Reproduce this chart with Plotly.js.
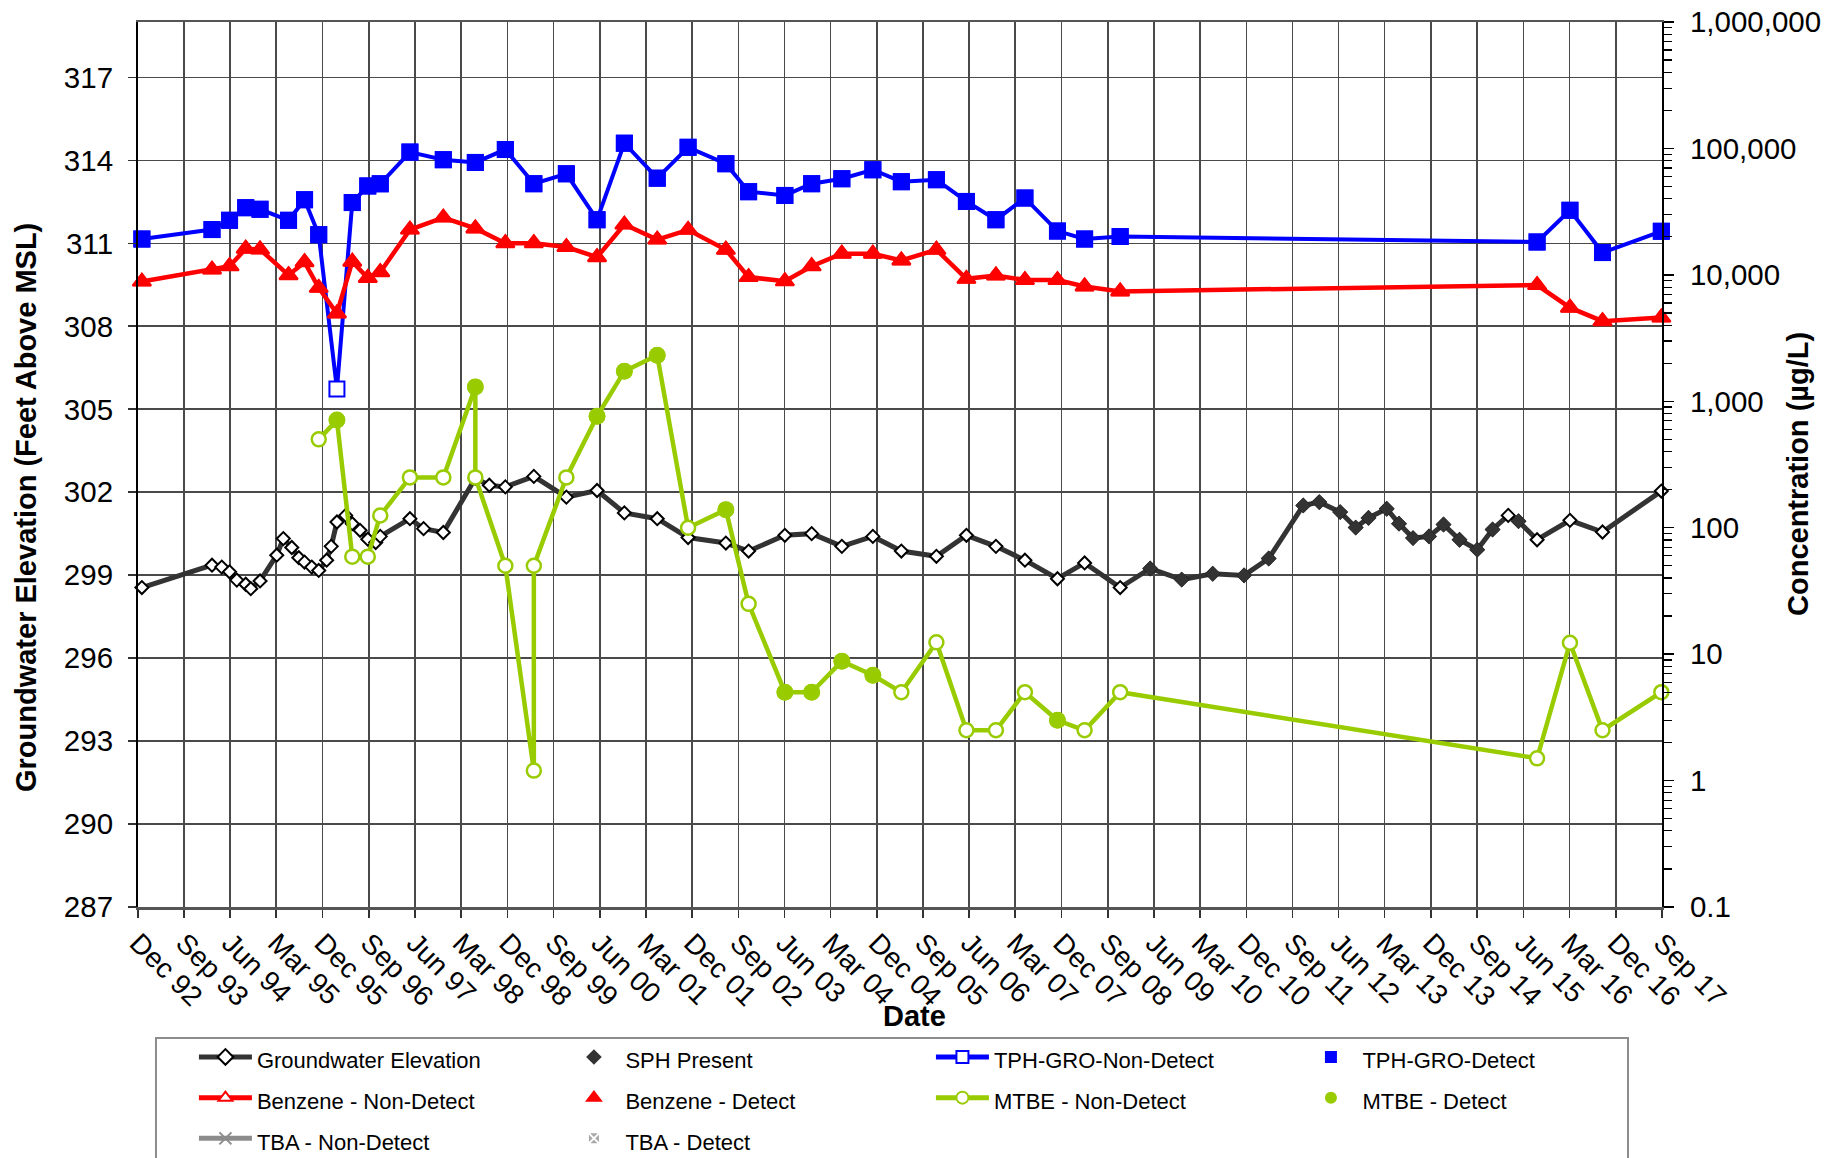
<!DOCTYPE html>
<html>
<head>
<meta charset="utf-8">
<script src="https://cdn.plot.ly/plotly-3.0.1.min.js"></script>
<style>
  html, body { margin: 0; padding: 0; background: #ffffff; }
  #chart { width: 1839px; height: 1158px; }
</style>
</head>
<body>
<div id="chart"></div>
<script>
// ---------------- DATA ----------------
const tickDates = ['1992-12-01','1993-09-01','1994-06-01','1995-03-01','1995-12-01','1996-09-01','1997-06-01','1998-03-01','1998-12-01','1999-09-01','2000-06-01','2001-03-01','2001-12-01','2002-09-01','2003-06-01','2004-03-01','2004-12-01','2005-09-01','2006-06-01','2007-03-01','2007-12-01','2008-09-01','2009-06-01','2010-03-01','2010-12-01','2011-09-01','2012-06-01','2013-03-01','2013-12-01','2014-09-01','2015-06-01','2016-03-01','2016-12-01','2017-09-01'];
const tickLabels = ['Dec 92','Sep 93','Jun 94','Mar 95','Dec 95','Sep 96','Jun 97','Mar 98','Dec 98','Sep 99','Jun 00','Mar 01','Dec 01','Sep 02','Jun 03','Mar 04','Dec 04','Sep 05','Jun 06','Mar 07','Dec 07','Sep 08','Jun 09','Mar 10','Dec 10','Sep 11','Jun 12','Mar 13','Dec 13','Sep 14','Jun 15','Mar 16','Dec 16','Sep 17'];

const concTickVals = [0.1, 1, 10, 100, 1000, 10000, 100000, 1000000];
const concTickText = ['0.1', '1', '10', '100', '1,000', '10,000', '100,000', '1,000,000'];

// Groundwater elevation (ft above MSL)
const gwDates = ['1992-12-24','1994-02-13','1994-04-12','1994-05-28','1994-07-10','1994-09-01','1994-10-01','1994-11-25','1995-03-04','1995-04-12','1995-06-01','1995-07-13','1995-08-16','1995-09-28','1995-11-08','1995-12-25','1996-01-21','1996-02-24','1996-04-16','1996-05-25','1996-07-10','1996-08-25','1996-10-11','1996-11-07','1997-05-02','1997-07-22','1997-11-16','1998-05-25','1998-08-16','1998-11-19','1999-05-07','1999-11-16','2000-05-16','2000-10-25','2001-05-08','2001-11-07','2002-06-19','2002-11-01','2003-06-04','2003-11-10','2004-05-07','2004-11-07','2005-04-25','2005-11-19','2006-05-16','2006-11-07','2007-04-28','2007-11-07','2008-04-16','2008-11-13','2009-05-10','2009-11-13','2010-05-16','2010-11-18','2011-04-13','2011-11-04','2012-02-07','2012-06-10','2012-09-10','2012-11-25','2013-03-13','2013-05-25','2013-08-16','2013-11-19','2014-02-13','2014-05-19','2014-09-01','2014-12-01','2015-03-04','2015-05-04','2015-08-22','2016-03-04','2016-09-13','2017-08-28'];
const gwValues = [298.55,299.36,299.29,299.12,298.82,298.67,298.51,298.79,299.72,300.32,300.00,299.63,299.47,299.29,299.17,299.54,300.04,300.92,301.16,300.86,300.62,300.30,300.18,300.40,301.04,300.68,300.54,302.50,302.25,302.19,302.57,301.82,302.06,301.25,301.04,300.36,300.16,299.87,300.44,300.50,300.04,300.40,299.87,299.68,300.44,300.04,299.54,298.87,299.44,298.55,299.24,298.84,299.05,298.99,299.60,301.52,301.64,301.28,300.72,301.07,301.40,300.86,300.34,300.40,300.83,300.28,299.92,300.65,301.16,300.95,300.28,300.98,300.56,302.04];
const gwSPH = [0,0,0,0,0,0,0,0,0,0, 0,0,0,0,0,0,0,0,0,0, 0,0,0,0,0,0,0,0,0,0, 0,0,0,0,0,0,0,0,0,0, 0,0,0,0,0,0,0,0,0,0, 1,1,1,1,1,1,1,1,1,1, 1,1,1,1,1,1,1,1,0,1, 0,0,0,0];

// Sampling events for TPH-GRO and Benzene (µg/L)
const sampleDates = ['1992-12-24','1994-02-13','1994-05-28','1994-09-01','1994-11-25','1995-05-13','1995-08-16','1995-11-08','1996-02-24','1996-05-25','1996-08-25','1996-11-07','1997-05-02','1997-11-16','1998-05-25','1998-11-19','1999-05-07','1999-11-16','2000-05-16','2000-10-25','2001-05-08','2001-11-07','2002-06-19','2002-11-01','2003-06-04','2003-11-10','2004-05-07','2004-11-07','2005-04-25','2005-11-19','2006-05-16','2006-11-07','2007-04-28','2007-11-07','2008-04-16','2008-11-13','2015-08-22','2016-03-04','2016-09-13','2017-08-28'];
const tphValues = [19200,22800,27000,34000,33000,27000,39300,20800,1250,37300,50500,52500,93500,81500,77500,98000,52600,63000,27300,110000,58200,102000,75700,45500,42500,52600,57600,67800,54600,56600,38100,27300,40500,22200,19200,20100,18200,32400,15000,22100];
const tphDetect = [1,1,1,1,1,1,1,1,0,1, 1,1,1,1,1,1,1,1,1,1, 1,1,1,1,1,1,1,1,1,1, 1,1,1,1,1,1,1,1,1,1];
const benzeneValues = [8850,11000,11700,16100,15900,9950,12600,7900,4950,12700,9450,10500,22800,28400,23300,17800,17800,16600,13800,25000,19000,22700,15800,9600,8900,11700,14700,14700,13000,15800,9300,9900,9100,9100,8100,7400,8300,5500,4300,4600];
const benzeneDetect = [1,1,1,1,1,1,1,1,1,1, 1,1,1,1,1,1,1,1,1,1, 1,1,1,1,1,1,1,1,1,1, 1,1,1,1,1,1,1,1,1,1];

// MTBE (µg/L)
const mtbeDates = ['1995-11-08','1996-02-24','1996-05-25','1996-08-25','1996-11-07','1997-05-02','1997-11-16','1998-05-25','1998-05-25','1998-11-19','1999-05-07','1999-05-07','1999-11-16','2000-05-16','2000-10-25','2001-05-08','2001-11-07','2002-06-19','2002-11-01','2003-06-04','2003-11-10','2004-05-07','2004-11-07','2005-04-25','2005-11-19','2006-05-16','2006-11-07','2007-04-28','2007-11-07','2008-04-16','2008-11-13','2015-08-22','2016-03-04','2016-09-13','2017-08-28'];
const mtbeValues = [500,710,59,59,125,250,250,1300,250,50,1.2,50,250,760,1730,2310,100,139,25,5,5,8.8,6.8,5,12.4,2.5,2.5,5,3,2.5,5,1.5,12.3,2.5,5];
const mtbeDetect = [0,1,0,0,0,0,0,1,0,0, 0,0,0,1,1,1,0,1,0,1, 1,1,1,0,0,0,0,0,1,0, 0,0,0,0,0];

// TBA: no results plotted (a single empty record keeps the series in the legend)
const tbaDates = [null];
const tbaValues = [null];

// ---------------- HELPERS ----------------
function pick(arr, flags) { return arr.filter((_, i) => flags[i] === 1); }
function legendName(t) { return '<span style="font-size:22px">' + t + '</span>'; }

const FONT = 'Arial, "Liberation Sans", sans-serif';
const GW_COLOR = '#333333', TPH_COLOR = '#0000FF', BZ_COLOR = '#FF0000', MTBE_COLOR = '#99CC00', TBA_COLOR = '#8C8C8C';

const traces = [
  { // Groundwater elevation line
    name: legendName('Groundwater Elevation'), x: gwDates, y: gwValues, yaxis: 'y',
    type: 'scatter', mode: 'lines+markers', cliponaxis: false,
    line: { color: GW_COLOR, width: 5 },
    marker: { symbol: 'diamond', size: 10, color: '#ffffff', line: { color: '#000000', width: 2 } }
  },
  { // SPH present
    name: legendName('SPH Present'), x: pick(gwDates, gwSPH), y: pick(gwValues, gwSPH), yaxis: 'y',
    type: 'scatter', mode: 'markers', cliponaxis: false,
    marker: { symbol: 'diamond', size: 12, color: GW_COLOR, line: { width: 0 } }
  },
  {
    name: legendName('TPH-GRO-Non-Detect'), x: sampleDates, y: tphValues, yaxis: 'y2',
    type: 'scatter', mode: 'lines+markers', cliponaxis: false,
    line: { color: TPH_COLOR, width: 4 },
    marker: { symbol: 'square', size: 15, color: '#ffffff', line: { color: TPH_COLOR, width: 2 } }
  },
  {
    name: legendName('TPH-GRO-Detect'), x: pick(sampleDates, tphDetect), y: pick(tphValues, tphDetect), yaxis: 'y2',
    type: 'scatter', mode: 'markers', cliponaxis: false,
    marker: { symbol: 'square', size: 17, color: TPH_COLOR, line: { width: 0 } }
  },
  {
    name: legendName('Benzene - Non-Detect'), x: sampleDates, y: benzeneValues, yaxis: 'y2',
    type: 'scatter', mode: 'lines+markers', cliponaxis: false,
    line: { color: BZ_COLOR, width: 4.5 },
    marker: { symbol: 'triangle-up', size: 15, color: '#ffffff', line: { color: BZ_COLOR, width: 2 } }
  },
  {
    name: legendName('Benzene - Detect'), x: pick(sampleDates, benzeneDetect), y: pick(benzeneValues, benzeneDetect), yaxis: 'y2',
    type: 'scatter', mode: 'markers', cliponaxis: false,
    marker: { symbol: 'triangle-up', size: 16, color: BZ_COLOR, line: { color: BZ_COLOR, width: 2 } }
  },
  {
    name: legendName('MTBE - Non-Detect'), x: mtbeDates, y: mtbeValues, yaxis: 'y2',
    type: 'scatter', mode: 'lines+markers', cliponaxis: false,
    line: { color: MTBE_COLOR, width: 4.5 },
    marker: { symbol: 'circle', size: 14, color: '#ffffff', line: { color: MTBE_COLOR, width: 2.5 } }
  },
  {
    name: legendName('MTBE - Detect'), x: pick(mtbeDates, mtbeDetect), y: pick(mtbeValues, mtbeDetect), yaxis: 'y2',
    type: 'scatter', mode: 'markers', cliponaxis: false,
    marker: { symbol: 'circle', size: 17, color: MTBE_COLOR, line: { width: 0 } }
  },
  {
    name: legendName('TBA - Non-Detect'), x: tbaDates, y: tbaValues, yaxis: 'y2',
    type: 'scatter', mode: 'lines+markers',
    line: { color: TBA_COLOR, width: 4.5 },
    marker: { symbol: 'x-thin-open', size: 10, color: TBA_COLOR, line: { color: TBA_COLOR, width: 2 } }
  },
  {
    name: legendName('TBA - Detect'), x: tbaDates, y: tbaValues, yaxis: 'y2',
    type: 'scatter', mode: 'markers',
    marker: { symbol: 'square-x', size: 12, color: '#A8A8A8', line: { color: '#ffffff', width: 1 } }
  }
];

const axisFont = { family: FONT, size: 29.5, color: '#000000' };
const xTickFont = { family: FONT, size: 28, color: '#000000' };
const titleFont = { family: FONT, size: 29, color: '#000000' };

const layout = {
  width: 1839, height: 1158,
  paper_bgcolor: '#ffffff', plot_bgcolor: '#ffffff',
  margin: { l: 138, r: 177, t: 22, b: 251, autoexpand: false },
  font: { family: FONT, color: '#000000' },
  showlegend: true,
  legend: {
    orientation: 'h', x: 0.0367, xanchor: 'left', y: -0.1408, yanchor: 'top',
    entrywidth: 300.5, entrywidthmode: 'pixels', itemwidth: 53, itemsizing: 'constant',
    traceorder: 'normal', font: { family: FONT, size: 29, color: '#000000' },
    bgcolor: 'rgba(0,0,0,0)', borderwidth: 0
  },
  xaxis: {
    type: 'date', range: ['1992-12-01', '2017-09-01'],
    tickmode: 'array', tickvals: tickDates, ticktext: tickLabels,
    tickangle: 45, tickfont: xTickFont, ticklabelstandoff: -2,
    ticks: 'outside', ticklen: 8, tickwidth: 1.5, tickcolor: '#333333',
    showgrid: true, gridcolor: '#4a4a4a', gridwidth: 1.5,
    showline: true, linecolor: '#555555', linewidth: 2.5, mirror: true,
    zeroline: false
  },
  yaxis: {
    range: [287, 319], tick0: 287, dtick: 3,
    tickfont: axisFont, ticks: 'outside', ticklen: 8, tickwidth: 1.5, tickcolor: '#333333',
    ticklabelstandoff: 9,
    showgrid: true, gridcolor: '#4a4a4a', gridwidth: 1.5,
    showline: true, linecolor: '#000000', linewidth: 2,
    zeroline: false
  },
  yaxis2: {
    type: 'log', range: [-1, 6], overlaying: 'y', side: 'right', anchor: 'x',
    tickmode: 'array', tickvals: concTickVals, ticktext: concTickText,
    tickfont: axisFont, ticks: 'outside', ticklen: 10, tickwidth: 1.5, tickcolor: '#000000',
    ticklabelstandoff: 10,
    minor: { ticks: 'outside', ticklen: 8, tickwidth: 1.2, tickcolor: '#000000', dtick: 'D1', showgrid: false },
    showgrid: false, showline: true, linecolor: '#000000', linewidth: 2,
    zeroline: false
  },
  yaxis3: {
    type: 'log', range: [-1, 6], overlaying: 'y', side: 'right', anchor: 'x',
    tickmode: 'array', tickvals: concTickVals,
    showticklabels: false, ticks: 'inside', ticklen: 7, tickwidth: 1.5, tickcolor: '#000000',
    minor: { ticks: 'inside', ticklen: 6, tickwidth: 1.2, tickcolor: '#000000', dtick: 'D1', showgrid: false },
    showgrid: false, showline: false, zeroline: false
  },
  annotations: [
    { text: '<b>Groundwater Elevation (Feet Above MSL)</b>', xref: 'paper', yref: 'paper',
      x: 0, xshift: -112, y: 0.4508, xanchor: 'center', yanchor: 'middle', textangle: -90,
      showarrow: false, font: titleFont },
    { text: '<b>Concentration (µg/L)</b>', xref: 'paper', yref: 'paper',
      x: 1, xshift: 136, y: 0.4893, xanchor: 'center', yanchor: 'middle', textangle: -90,
      showarrow: false, font: titleFont },
    { text: '<b>Date</b>', xref: 'paper', yref: 'paper',
      x: 0.5098, y: -0.1232, xanchor: 'center', yanchor: 'middle',
      showarrow: false, font: titleFont }
  ],
  shapes: [
    { type: 'rect', xref: 'paper', yref: 'paper', x0: 0.0118, x1: 0.9777, y0: -0.331, y1: -0.148,
      line: { color: '#8c8c8c', width: 2 }, fillcolor: 'rgba(0,0,0,0)', layer: 'above' }
  ]
};

Plotly.newPlot('chart', traces, layout, { staticPlot: true, displayModeBar: false });
</script>
</body>
</html>
